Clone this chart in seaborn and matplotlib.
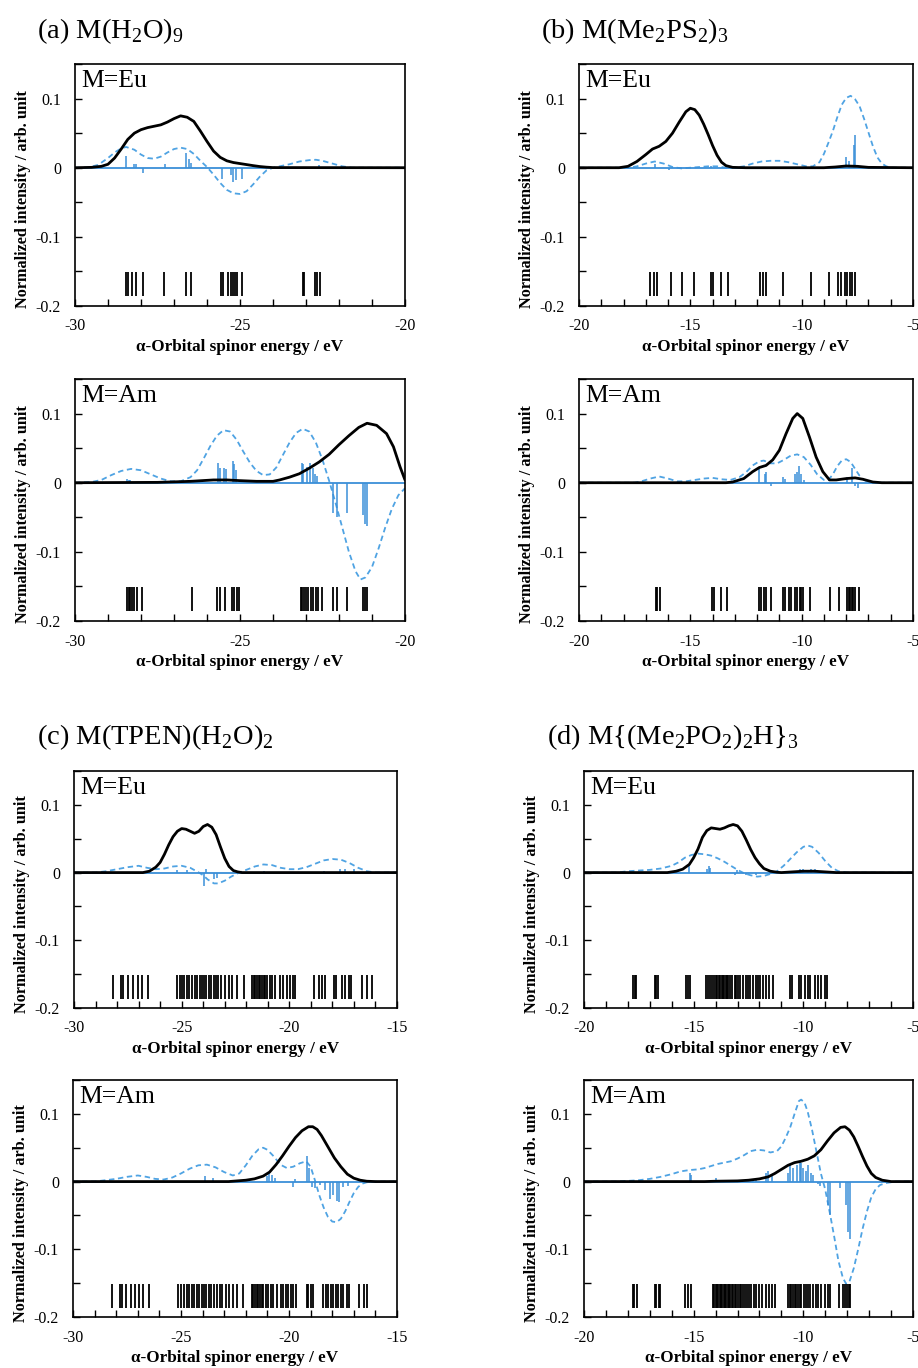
import matplotlib
matplotlib.use("Agg")
import matplotlib.pyplot as plt
from matplotlib.ticker import MultipleLocator, FuncFormatter
import seaborn as sns

# ---- (a) M(H2O)9, Eu ----
a_eu_solid_e = [-30.0, -29.5, -29.2, -29.0, -28.8, -28.6, -28.4, -28.2, -28.0, -27.8, -27.6, -27.4, -27.2, -27.0, -26.8,
                -26.6, -26.4, -26.2, -26.0, -25.8, -25.6, -25.4, -25.2, -25.0, -24.8, -24.6, -24.4, -24.2, -24.0, -20.0]
a_eu_solid_v = [0, 0.0005, 0.002, 0.005, 0.014, 0.027, 0.041, 0.050, 0.055, 0.058, 0.060, 0.062, 0.066, 0.071, 0.075,
                0.073, 0.067, 0.053, 0.038, 0.024, 0.015, 0.010, 0.0075, 0.006, 0.0045, 0.003, 0.0017, 0.0008, 0.0002, 0]
a_eu_dash_e = [-30.0, -29.6, -29.3, -29.0, -28.8, -28.6, -28.45, -28.2, -28.0, -27.8, -27.6, -27.4, -27.2, -27.0, -26.8,
               -26.6, -26.4, -26.2, -26.0, -25.8, -25.6, -25.4, -25.2, -25.0, -24.8, -24.6, -24.4, -24.2, -24.0, -23.8,
               -23.5, -23.2, -22.9, -22.7, -22.5, -22.2, -21.9, -21.6, -20.0]
a_eu_dash_v = [0, 0.0005, 0.004, 0.014, 0.022, 0.028, 0.030, 0.026, 0.019, 0.014, 0.013, 0.016, 0.022, 0.027, 0.029,
               0.027, 0.020, 0.010, 0.001, -0.010, -0.022, -0.032, -0.037, -0.038, -0.034, -0.024, -0.013, -0.004, 0.0,
               0.002, 0.005, 0.009, 0.011, 0.0115, 0.010, 0.006, 0.002, 0.0, 0]
a_eu_stick_e = [-28.46, -28.20, -28.15, -27.95, -27.27, -26.65, -26.56, -26.48, -25.55, -25.28, -25.20, -25.12, -24.95, -22.60]
a_eu_stick_v = [0.017, 0.006, 0.005, -0.007, 0.005, 0.022, 0.012, 0.007, -0.017, -0.011, -0.020, -0.018, -0.017, 0.004]
a_eu_levels = [-28.46, -28.38, -28.28, -28.15, -27.95, -27.29, -26.65, -26.48, -25.58, -25.51, -25.35, -25.28, -25.22,
               -25.15, -25.08, -24.95, -23.10, -23.05, -22.73, -22.66, -22.58]

# ---- (a) M(H2O)9, Am ----
a_am_solid_e = [-30.0, -27.5, -26.5, -25.8, -25.4, -25.0, -24.5, -24.0, -23.8, -23.5, -23.2, -22.9, -22.6, -22.3, -22.0,
                -21.7, -21.4, -21.15, -20.86, -20.56, -20.35, -20.15, -20.0]
a_am_solid_v = [0, 0.0005, 0.002, 0.004, 0.004, 0.003, 0.002, 0.002, 0.004, 0.008, 0.013, 0.021, 0.030, 0.041, 0.055,
                0.068, 0.080, 0.086, 0.083, 0.071, 0.052, 0.023, 0.004]
a_am_dash_e = [-30.0, -29.5, -29.2, -28.9, -28.6, -28.3, -28.0, -27.7, -27.4, -27.1, -26.8, -26.5, -26.3, -26.1, -25.9,
               -25.7, -25.5, -25.3, -25.1, -24.9, -24.7, -24.5, -24.3, -24.1, -23.9, -23.7, -23.5, -23.3, -23.1, -22.9,
               -22.7, -22.5, -22.3, -22.1, -21.9, -21.7, -21.5, -21.35, -21.2, -21.0, -20.8, -20.6, -20.4, -20.2, -20.0]
a_am_dash_v = [0, 0.001, 0.004, 0.011, 0.017, 0.020, 0.018, 0.012, 0.006, 0.002, 0.002, 0.008, 0.018, 0.035, 0.053,
               0.068, 0.076, 0.074, 0.062, 0.045, 0.029, 0.017, 0.011, 0.012, 0.022, 0.040, 0.058, 0.072, 0.078, 0.074,
               0.058, 0.033, 0.003, -0.030, -0.065, -0.100, -0.128, -0.140, -0.137, -0.122, -0.095, -0.065, -0.038,
               -0.018, -0.008]
a_am_stick_e = [-28.43, -28.37, -28.32, -25.66, -25.61, -25.48, -25.43, -25.22, -25.17, -25.13, -23.13, -23.08, -22.98,
                -22.88, -22.78, -22.73, -22.68, -22.17, -22.05, -21.77, -21.26, -21.21, -21.16]
a_am_stick_v = [0.005, 0.004, 0.004, 0.028, 0.022, 0.021, 0.020, 0.031, 0.027, 0.018, 0.028, 0.027, 0.023, 0.028, 0.022,
                0.013, 0.010, -0.044, -0.050, -0.044, -0.047, -0.060, -0.062]
a_am_levels = [-28.43, -28.37, -28.32, -28.27, -28.20, -28.13, -27.98, -26.45, -25.69, -25.61, -25.45, -25.23, -25.17,
               -25.10, -25.02, -23.16, -23.11, -23.06, -23.00, -22.93, -22.86, -22.78, -22.71, -22.63, -22.53, -22.17,
               -22.05, -21.77, -21.26, -21.21, -21.16]

# ---- (b) M(Me2PS2)3, Eu ----
b_eu_solid_e = [-20.0, -18.2, -17.8, -17.4, -17.0, -16.7, -16.4, -16.1, -15.8, -15.5, -15.2, -15.0, -14.8, -14.6, -14.4,
                -14.2, -14.0, -13.8, -13.6, -13.4, -13.1, -12.5, -9.0, -8.5, -8.0, -7.5, -7.0, -5.0]
b_eu_solid_v = [0, 0, 0.002, 0.009, 0.019, 0.027, 0.031, 0.038, 0.050, 0.066, 0.081, 0.086, 0.084, 0.076, 0.063,
                0.048, 0.032, 0.018, 0.008, 0.003, 0.0005, 0, 0, 0.001, 0.0025, 0.002, 0.0005, 0]
b_eu_dash_e = [-20.0, -17.8, -17.4, -17.0, -16.6, -16.2, -15.8, -15.4, -15.0, -14.6, -14.2, -13.8, -13.4, -13.0, -12.6,
               -12.2, -11.8, -11.4, -11.0, -10.6, -10.2, -9.8, -9.5, -9.2, -9.0, -8.8, -8.6, -8.4, -8.2, -8.0,
               -7.8, -7.6, -7.4, -7.2, -7.0, -6.8, -6.6, -6.4, -6.2, -6.0, -5.0]
b_eu_dash_v = [0, 0, 0.002, 0.006, 0.009, 0.006, 0.001, -0.001, 0.0, 0.001, 0.002, 0.002, 0.0, 0.0, 0.002,
               0.006, 0.009, 0.010, 0.010, 0.008, 0.005, 0.002, 0.002, 0.008, 0.020, 0.036, 0.053, 0.073, 0.091, 0.101,
               0.104, 0.099, 0.089, 0.071, 0.051, 0.031, 0.015, 0.006, 0.002, 0, 0]
b_eu_stick_e = [-16.60, -15.95, -14.05, -7.99, -7.87, -7.66, -7.60]
b_eu_stick_v = [0.005, -0.003, 0.002, 0.015, 0.010, 0.033, 0.048]
b_eu_levels = [-16.83, -16.65, -16.50, -15.85, -15.36, -14.85, -14.06, -13.98, -13.61, -13.31, -11.86, -11.74, -11.59,
               -10.84, -9.57, -8.77, -8.37, -8.22, -8.07, -7.96, -7.84, -7.72, -7.62]

# ---- (b) M(Me2PS2)3, Am ----
b_am_solid_e = [-20.0, -13.4, -13.1, -12.6, -12.2, -11.9, -11.6, -11.3, -11.0, -10.7, -10.4, -10.2, -9.95, -9.65, -9.35,
                -9.05, -8.75, -8.45, -8.0, -7.6, -7.25, -6.8, -6.4, -5.0]
b_am_solid_v = [0, 0, 0.001, 0.006, 0.016, 0.022, 0.025, 0.033, 0.047, 0.071, 0.093, 0.100, 0.093, 0.066, 0.037,
                0.016, 0.004, 0.004, 0.006, 0.007, 0.005, 0.001, 0, 0]
b_am_dash_e = [-20.0, -17.5, -17.2, -16.8, -16.4, -16.0, -15.6, -15.2, -14.8, -14.4, -14.0, -13.6, -13.2, -12.8, -12.5,
               -12.2, -11.9, -11.7, -11.4, -11.1, -10.8, -10.5, -10.2, -9.9, -9.6, -9.3, -9.0, -8.8, -8.6, -8.4,
               -8.2, -8.0, -7.8, -7.6, -7.4, -7.2, -7.0, -6.6, -5.0]
b_am_dash_v = [0, 0, 0.002, 0.006, 0.009, 0.006, 0.002, 0.002, 0.004, 0.006, 0.007, 0.005, 0.004, 0.008, 0.015,
               0.025, 0.031, 0.032, 0.028, 0.028, 0.033, 0.039, 0.041, 0.037, 0.026, 0.012, 0.004, 0.004, 0.012, 0.024,
               0.032, 0.034, 0.030, 0.020, 0.010, 0.004, 0.001, 0, 0]
b_am_stick_e = [-11.92, -11.66, -11.59, -11.36, -10.84, -10.76, -10.31, -10.19, -10.12, -10.04, -9.91, -7.96, -7.72,
                -7.62, -7.47]
b_am_stick_v = [0.020, 0.013, 0.015, -0.005, 0.008, 0.006, 0.012, 0.015, 0.024, 0.012, 0.004, 0.008, 0.022, -0.005, -0.007]
b_am_levels = [-16.56, -16.49, -16.38, -14.03, -13.95, -13.61, -13.35, -11.92, -11.81, -11.71, -11.59, -11.36, -10.84,
               -10.76, -10.57, -10.46, -10.31, -10.19, -10.09, -10.01, -9.94, -9.64, -8.74, -8.32, -7.96, -7.87, -7.81,
               -7.75, -7.69, -7.62, -7.43]

# ---- (c) M(TPEN)(H2O)2, Eu ----
c_eu_solid_e = [-30.0, -26.8, -26.5, -26.2, -26.0, -25.8, -25.6, -25.4, -25.2, -25.0, -24.8, -24.6, -24.4, -24.2, -24.0,
                -23.8, -23.6, -23.4, -23.2, -23.0, -22.8, -22.6, -22.4, -22.2, -15.0]
c_eu_solid_v = [0, 0, 0.002, 0.008, 0.015, 0.027, 0.041, 0.053, 0.061, 0.065, 0.064, 0.061, 0.058, 0.061, 0.068,
                0.071, 0.067, 0.056, 0.038, 0.021, 0.009, 0.003, 0.001, 0, 0]
c_eu_dash_e = [-30.0, -29.0, -28.5, -28.0, -27.5, -27.0, -26.6, -26.2, -25.8, -25.4, -25.0, -24.6, -24.2, -24.0, -23.8,
               -23.5, -23.3, -23.0, -22.7, -22.4, -22.0, -21.6, -21.2, -20.8, -20.4, -20.0, -19.6, -19.2, -18.8, -18.4,
               -18.0, -17.6, -17.2, -16.8, -16.4, -16.0, -15.0]
c_eu_dash_v = [0, 0, 0.002, 0.005, 0.008, 0.010, 0.007, 0.005, 0.006, 0.009, 0.010, 0.007, 0.0, -0.004, -0.010,
               -0.016, -0.016, -0.012, -0.006, -0.001, 0.004, 0.009, 0.012, 0.011, 0.007, 0.005, 0.005, 0.008, 0.013,
               0.018, 0.020, 0.019, 0.014, 0.007, 0.002, 0.0, 0]
c_eu_stick_e = [-25.22, -24.76, -23.98, -23.86, -23.52, -23.36, -21.19, -18.40, -17.63, -17.40, -17.01]
c_eu_stick_v = [0.004, 0.004, -0.020, 0.006, -0.010, -0.008, 0.003, 0.003, 0.006, 0.005, 0.005]
c_eu_levels = [-28.20, -27.83, -27.71, -27.47, -27.24, -27.01, -26.85, -26.57,
               -25.22, -25.10, -24.99, -24.88, -24.76, -24.64, -24.53, -24.40, -24.29, -24.17, -24.06, -23.95, -23.86,
               -23.75, -23.64, -23.52, -23.40, -23.29, -23.16, -22.98, -22.82, -22.64, -22.43, -22.12,
               -21.74, -21.66, -21.58, -21.50, -21.43, -21.35, -21.27, -21.19, -21.12, -21.04, -20.91, -20.81, -20.65,
               -20.45, -20.29, -20.11, -19.95, -19.83, -19.72,
               -18.87, -18.64, -18.48, -18.33, -17.94, -17.81, -17.55, -17.40, -17.24, -17.13,
               -16.62, -16.39, -16.16]

# ---- (d) M{(Me2PO2)2H}3, Eu ----
d_eu_solid_e = [-20.0, -16.2, -15.8, -15.5, -15.2, -15.0, -14.8, -14.6, -14.4, -14.2, -14.0, -13.8, -13.6, -13.4, -13.2,
                -13.0, -12.8, -12.6, -12.4, -12.2, -12.0, -11.8, -11.5, -11.2, -11.0, -10.5, -10.0, -9.5, -9.0, -8.5, -5.0]
d_eu_solid_v = [0, 0, 0.002, 0.005, 0.012, 0.022, 0.035, 0.052, 0.062, 0.066, 0.065, 0.064, 0.066, 0.069, 0.071,
                0.069, 0.061, 0.048, 0.034, 0.022, 0.013, 0.006, 0.002, 0.0005, 0, 0.001, 0.002, 0.002, 0.001, 0, 0]
d_eu_dash_e = [-20.0, -18.5, -18.0, -17.5, -17.0, -16.5, -16.0, -15.7, -15.4, -15.1, -14.8, -14.5, -14.2, -13.9, -13.6,
               -13.3, -13.0, -12.7, -12.4, -12.1, -11.8, -11.5, -11.2, -10.9, -10.6, -10.3, -10.0, -9.8, -9.6, -9.3,
               -9.0, -8.7, -8.4, -8.0, -5.0]
d_eu_dash_v = [0, 0, 0.002, 0.003, 0.004, 0.006, 0.010, 0.015, 0.022, 0.026, 0.028, 0.027, 0.025, 0.021, 0.016,
               0.010, 0.004, -0.001, -0.004, -0.006, -0.005, -0.002, 0.002, 0.010, 0.020, 0.030, 0.038, 0.040, 0.038,
               0.029, 0.017, 0.007, 0.002, 0, 0]
d_eu_stick_e = [-15.21, -14.39, -14.30, -14.24, -13.13, -13.02, -12.60, -12.14, -10.17, -10.02, -9.79, -9.64, -9.48, -9.26]
d_eu_stick_v = [0.013, 0.006, 0.009, 0.007, -0.003, 0.004, -0.003, -0.004, 0.005, 0.006, 0.004, 0.006, 0.005, 0.003]
d_eu_levels = [-17.75, -17.69, -17.63, -16.78, -16.70, -16.63, -15.36, -15.26, -15.18,
               -14.45, -14.35, -14.24, -14.15, -14.07, -14.00, -13.92, -13.84, -13.78, -13.72, -13.66, -13.60, -13.54,
               -13.48, -13.42, -13.36, -13.25, -13.13, -13.05, -12.98, -12.87, -12.75, -12.63, -12.52, -12.42, -12.29,
               -12.17, -12.07, -11.96, -11.84, -11.69, -11.57, -11.38,
               -10.59, -10.50, -10.20, -10.09, -9.94, -9.79, -9.68, -9.48, -9.33, -9.18, -9.03, -8.91]

# ---- (c) M(TPEN)(H2O)2, Am ----
c_am_solid_e = [-30.0, -22.8, -22.4, -22.0, -21.6, -21.2, -20.9, -20.6, -20.3, -20.0, -19.7, -19.4, -19.1, -18.9, -18.7,
                -18.5, -18.3, -18.1, -17.9, -17.6, -17.3, -17.0, -16.7, -16.4, -16.0, -15.0]
c_am_solid_v = [0, 0, 0.001, 0.002, 0.004, 0.008, 0.014, 0.025, 0.038, 0.052, 0.065, 0.075, 0.081, 0.081, 0.077,
                0.068, 0.057, 0.046, 0.035, 0.022, 0.011, 0.005, 0.002, 0.0005, 0, 0]
c_am_dash_e = [-30.0, -29.0, -28.5, -28.0, -27.5, -27.0, -26.6, -26.2, -25.8, -25.4, -25.0, -24.6, -24.2, -23.8, -23.4,
               -23.0, -22.6, -22.3, -22.0, -21.7, -21.4, -21.2, -21.0, -20.7, -20.4, -20.1, -19.8, -19.5, -19.2, -19.0,
               -18.8, -18.6, -18.4, -18.2, -18.0, -17.8, -17.6, -17.4, -17.2, -17.0, -16.8, -16.6, -16.4, -16.0, -15.0]
c_am_dash_v = [0, 0, 0.002, 0.004, 0.007, 0.009, 0.007, 0.004, 0.003, 0.006, 0.012, 0.019, 0.024, 0.025, 0.021,
               0.014, 0.009, 0.012, 0.024, 0.038, 0.048, 0.050, 0.047, 0.037, 0.025, 0.020, 0.022, 0.027, 0.030, 0.022,
               0.002, -0.020, -0.038, -0.052, -0.059, -0.060, -0.055, -0.044, -0.030, -0.017, -0.008, -0.003, -0.001,
               0, 0]
c_am_stick_e = [-23.89, -23.51, -21.04, -20.91, -20.80, -20.65, -19.80, -19.72, -19.15, -19.07, -18.95, -18.79, -18.56,
                -18.33, -18.10, -17.94, -17.79, -17.67, -17.48, -17.25]
c_am_stick_v = [0.008, 0.005, 0.008, 0.012, 0.010, 0.006, -0.008, 0.004, 0.038, 0.020, -0.008, -0.010, -0.005, -0.012,
                -0.025, -0.020, -0.028, -0.030, -0.008, -0.006]
c_am_levels = [-28.18, -27.84, -27.71, -27.56, -27.30, -27.14, -26.94, -26.75, -26.48,
               -25.13, -24.98, -24.85, -24.74, -24.62, -24.51, -24.39, -24.28, -24.16, -24.05, -23.93, -23.82, -23.69,
               -23.59, -23.46, -23.35, -23.20, -23.08, -22.92, -22.77, -22.58, -22.40,
               -22.15, -21.73, -21.65, -21.58, -21.50, -21.42, -21.34, -21.27, -21.19, -21.08, -20.96, -20.85, -20.73,
               -20.57, -20.39, -20.26, -20.14, -20.03, -19.92, -19.80, -19.68,
               -19.18, -19.10, -19.00, -18.87, -18.41, -18.28, -18.18, -18.07, -17.94, -17.82, -17.71, -17.60, -17.48,
               -17.33, -17.20,
               -16.74, -16.55, -16.37]

# ---- (d) M{(Me2PO2)2H}3, Am ----
d_am_solid_e = [-20.0, -14.5, -14.0, -13.0, -12.5, -12.0, -11.6, -11.3, -11.0, -10.7, -10.4, -10.1, -9.8, -9.5, -9.2,
                -8.9, -8.6, -8.3, -8.1, -7.9, -7.7, -7.5, -7.3, -7.1, -6.9, -6.7, -6.4, -6.0, -5.0]
d_am_solid_v = [0, 0, 0.0005, 0.001, 0.002, 0.004, 0.007, 0.012, 0.018, 0.024, 0.028, 0.030, 0.033, 0.038, 0.047,
                0.060, 0.072, 0.080, 0.081, 0.076, 0.066, 0.052, 0.037, 0.023, 0.012, 0.006, 0.002, 0, 0]
d_am_dash_e = [-20.0, -18.5, -18.0, -17.5, -17.0, -16.5, -16.0, -15.6, -15.2, -14.8, -14.5, -14.2, -13.9, -13.6, -13.3,
               -13.0, -12.7, -12.4, -12.1, -11.8, -11.5, -11.2, -11.0, -10.8, -10.6, -10.4, -10.2, -10.1, -9.95, -9.8,
               -9.6, -9.4, -9.2, -9.0, -8.8, -8.6, -8.4, -8.2, -8.05, -7.9, -7.7, -7.5, -7.3, -7.1, -6.9, -6.7, -6.5,
               -6.2, -5.8, -5.0]
d_am_dash_v = [0, 0, 0.001, 0.002, 0.004, 0.007, 0.011, 0.015, 0.017, 0.018, 0.020, 0.023, 0.026, 0.028, 0.030,
               0.034, 0.039, 0.045, 0.047, 0.046, 0.043, 0.045, 0.052, 0.065, 0.080, 0.100, 0.119, 0.121, 0.117, 0.103,
               0.076, 0.044, 0.012, -0.012, -0.045, -0.080, -0.117, -0.142, -0.151, -0.148, -0.128, -0.100, -0.070,
               -0.044, -0.023, -0.011, -0.005, -0.002, 0, 0]
d_am_stick_e = [-15.18, -15.11, -13.97, -12.29, -12.14, -11.69, -11.61, -11.41, -10.70, -10.62, -10.47, -10.27, -10.17,
                -10.09, -10.02, -9.86, -9.79, -9.64, -9.56, -9.33, -9.26, -8.88, -8.77, -8.34, -8.04, -7.96, -7.89]
d_am_stick_v = [0.012, 0.010, 0.005, 0.004, 0.006, 0.013, 0.015, 0.010, 0.012, 0.025, 0.020, 0.025, 0.031, 0.028, 0.020,
                0.015, 0.025, 0.012, 0.010, -0.004, -0.007, -0.035, -0.050, -0.010, -0.035, -0.075, -0.085]
d_am_levels = [-17.77, -17.70, -17.58, -16.78, -16.70, -16.60, -16.52, -15.41, -15.26, -15.11,
               -14.12, -14.06, -14.00, -13.94, -13.88, -13.81, -13.75, -13.69, -13.63, -13.57, -13.51, -13.45, -13.39,
               -13.33, -13.27, -13.21, -13.13, -13.05, -12.98, -12.90, -12.83, -12.75, -12.66, -12.57, -12.48, -12.37,
               -12.26, -12.14, -12.02, -11.87, -11.72, -11.57, -11.41, -11.31,
               -10.70, -10.62, -10.55, -10.47, -10.40, -10.32, -10.24, -10.17, -10.09, -9.98, -9.89, -9.79, -9.68,
               -9.56, -9.44, -9.32, -9.18, -9.03, -8.88, -8.77,
               -8.37, -8.19, -8.10, -8.01, -7.92, -7.86]

titles = [r"(a) M(H$_\mathregular{2}$O)$_\mathregular{9}$",
          r"(b) M(Me$_\mathregular{2}$PS$_\mathregular{2}$)$_\mathregular{3}$",
          r"(c) M(TPEN)(H$_\mathregular{2}$O)$_\mathregular{2}$",
          r"(d) M{(Me$_\mathregular{2}$PO$_\mathregular{2}$)$_\mathregular{2}$H}$_\mathregular{3}$"]

BLUE = "#3a8fd8"
DASH_BLUE = "#4fa3e3"
W, H = 918, 1368

sns.set_theme(style="ticks")
plt.rcParams['font.family'] = ['Liberation Serif', 'DejaVu Serif']
plt.rcParams['mathtext.fontset'] = 'custom'
plt.rcParams['mathtext.rm'] = 'Liberation Serif'
plt.rcParams['axes.unicode_minus'] = False
plt.rcParams['text.color'] = 'black'
plt.rcParams['axes.labelcolor'] = 'black'
plt.rcParams['xtick.color'] = 'black'
plt.rcParams['ytick.color'] = 'black'


def draw_panel(ax, solid_e, solid_v, dash_e, dash_v, stick_e, stick_v, levels, xlim, metal):
    sns.lineplot(x=dash_e, y=dash_v, ax=ax, color=DASH_BLUE, lw=1.3, linestyle=(0, (3, 2)),
                 estimator=None, sort=False)
    ax.axhline(0, color=BLUE, lw=1.3, zorder=2)
    ax.vlines(stick_e, 0, stick_v, color=BLUE, lw=1.1, zorder=3)
    sns.lineplot(x=solid_e, y=solid_v, ax=ax, color="black", lw=2.0, estimator=None, sort=False, zorder=4)
    ax.vlines(levels, -0.186, -0.151, color="black", lw=1.3)

    ax.set_xlim(*xlim)
    ax.set_ylim(-0.2, 0.15)
    ax.xaxis.set_major_locator(MultipleLocator(1))
    ax.yaxis.set_major_locator(MultipleLocator(0.05))
    ax.xaxis.set_major_formatter(FuncFormatter(lambda v, p: f"{v:.0f}" if abs(v / 5 - round(v / 5)) < 1e-6 else ""))
    ax.yaxis.set_major_formatter(FuncFormatter(
        lambda v, p: ("0" if abs(v) < 1e-9 else f"{v:.1f}") if abs(v / 0.1 - round(v / 0.1)) < 1e-6 else ""))
    ax.tick_params(direction="in", length=5, width=1, labelsize=11.5, top=False, right=False, colors="black")
    ax.tick_params(axis="x", pad=9)
    ax.tick_params(axis="y", pad=10)
    for sp in ax.spines.values():
        sp.set_linewidth(1.2)
        sp.set_color("black")
    ax.set_xlabel("α-Orbital spinor energy / eV", fontsize=12.3, fontweight="bold", labelpad=3)
    ax.set_ylabel("Normalized intensity / arb. unit", fontsize=11.7, fontweight="bold")
    ax.text(0.02, 0.975, metal, transform=ax.transAxes, va="top", ha="left", fontsize=18.5)


fig = plt.figure(figsize=(W / 100, H / 100), dpi=100)

panels = [
    ((75, 64, 405, 306), (-30, -20), "M=Eu", a_eu_solid_e, a_eu_solid_v, a_eu_dash_e, a_eu_dash_v, a_eu_stick_e, a_eu_stick_v, a_eu_levels),
    ((75, 379, 405, 621), (-30, -20), "M=Am", a_am_solid_e, a_am_solid_v, a_am_dash_e, a_am_dash_v, a_am_stick_e, a_am_stick_v, a_am_levels),
    ((579, 64, 913, 306), (-20, -5), "M=Eu", b_eu_solid_e, b_eu_solid_v, b_eu_dash_e, b_eu_dash_v, b_eu_stick_e, b_eu_stick_v, b_eu_levels),
    ((579, 379, 913, 621), (-20, -5), "M=Am", b_am_solid_e, b_am_solid_v, b_am_dash_e, b_am_dash_v, b_am_stick_e, b_am_stick_v, b_am_levels),
    ((74, 771, 397, 1008), (-30, -15), "M=Eu", c_eu_solid_e, c_eu_solid_v, c_eu_dash_e, c_eu_dash_v, c_eu_stick_e, c_eu_stick_v, c_eu_levels),
    ((73, 1080, 397, 1317), (-30, -15), "M=Am", c_am_solid_e, c_am_solid_v, c_am_dash_e, c_am_dash_v, c_am_stick_e, c_am_stick_v, c_am_levels),
    ((584, 771, 913, 1008), (-20, -5), "M=Eu", d_eu_solid_e, d_eu_solid_v, d_eu_dash_e, d_eu_dash_v, d_eu_stick_e, d_eu_stick_v, d_eu_levels),
    ((584, 1080, 913, 1317), (-20, -5), "M=Am", d_am_solid_e, d_am_solid_v, d_am_dash_e, d_am_dash_v, d_am_stick_e, d_am_stick_v, d_am_levels),
]

for box, xlim, metal, se, sv, de, dv, ke, kv, lv in panels:
    l, t, r, b = box
    ax = fig.add_axes([l / W, 1 - b / H, (r - l) / W, (b - t) / H])
    draw_panel(ax, se, sv, de, dv, ke, kv, lv, xlim, metal)
    # same pixel distance from the axis in every panel, centred a little below the middle
    ax.yaxis.set_label_coords(-44 / (r - l), 0.44)

title_pos = [(37, 31), (541, 31), (37, 737), (547, 737)]
for (tx, ty), title in zip(title_pos, titles):
    fig.text(tx / W, 1 - ty / H, title, fontsize=20.5, va="center", ha="left")

fig.savefig("out.png", dpi=100)
plt.close(fig)
